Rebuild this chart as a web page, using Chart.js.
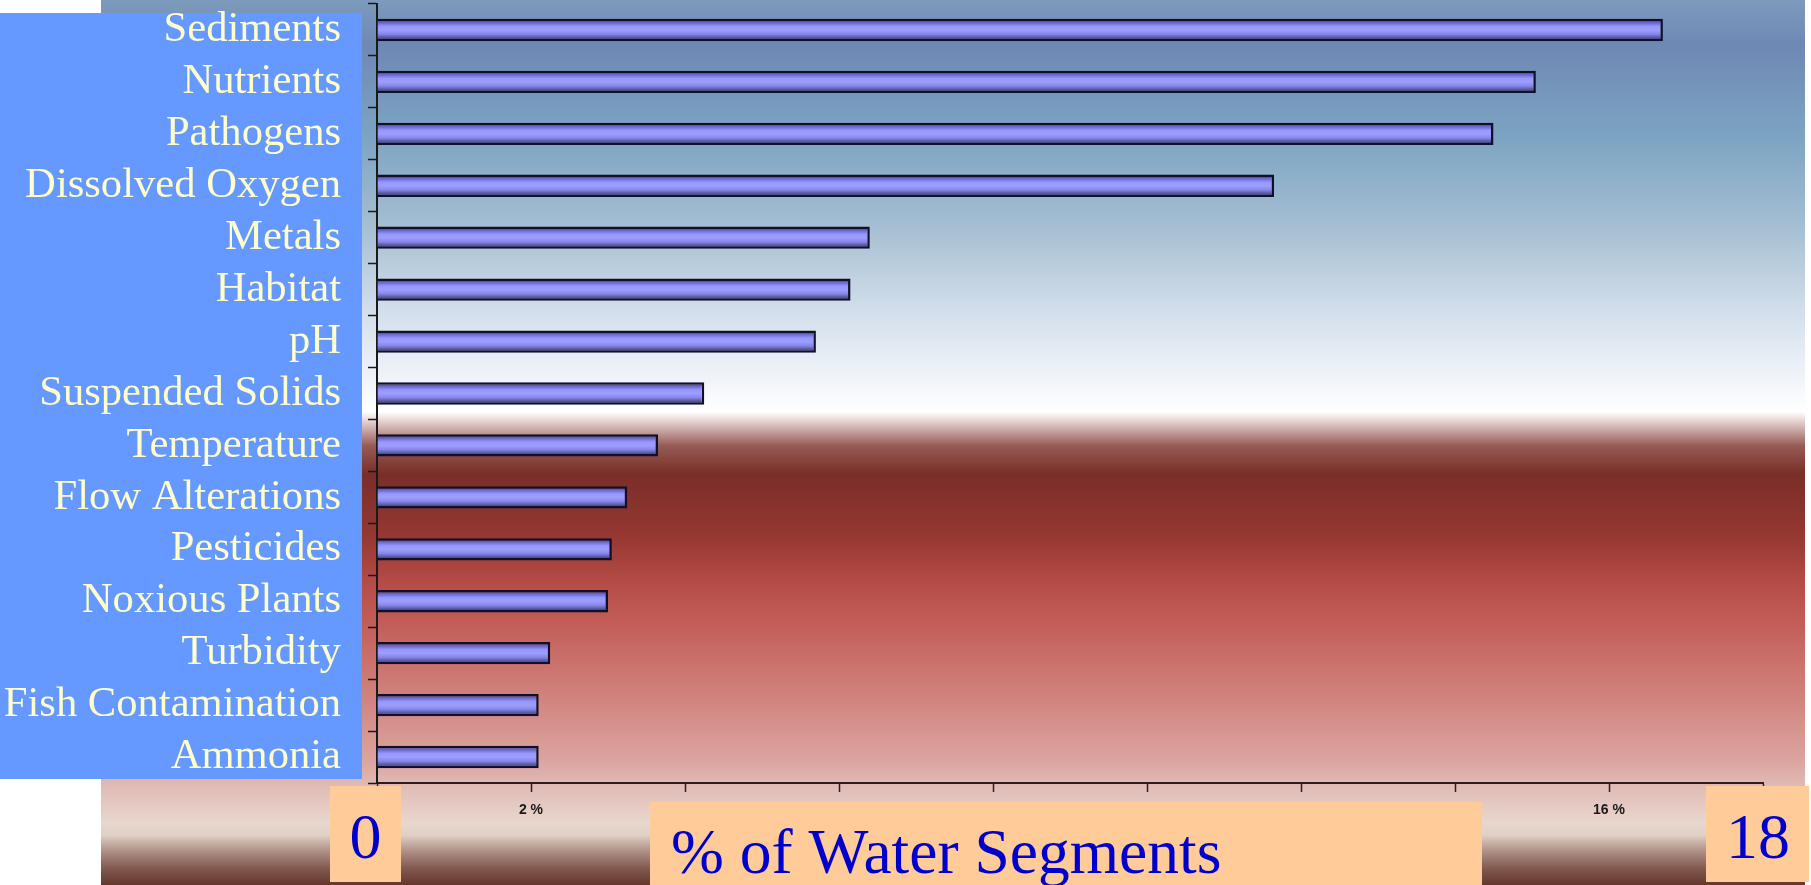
<!DOCTYPE html>
<html>
<head>
<meta charset="utf-8">
<title>Impairments by % of Water Segments</title>
<script src="https://cdn.jsdelivr.net/npm/chart.js@4/dist/chart.umd.min.js"></script>
<style>
  html, body { margin: 0; padding: 0; background: #ffffff; }
  #wrap { width: 1811px; height: 885px; position: relative; }
  canvas { display: block; }
</style>
</head>
<body>
<div id="wrap"><canvas id="chart" width="1811" height="885"></canvas></div>
<script>
// Impairment causes, top to bottom
const categories = [
  'Sediments', 'Nutrients', 'Pathogens', 'Dissolved Oxygen', 'Metals',
  'Habitat', 'pH', 'Suspended Solids', 'Temperature', 'Flow Alterations',
  'Pesticides', 'Noxious Plants', 'Turbidity', 'Fish Contamination', 'Ammonia'
];

// Share of water segments affected (%)
const percentValues = [
  16.7, 15.05, 14.5, 11.65, 6.4,
  6.15, 5.7, 4.25, 3.65, 3.25,
  3.05, 3.0, 2.25, 2.1, 2.1
];

// Axis range and labels
const axisMin = 0;
const axisMax = 18;
const axisStep = 2;
const labelledTicks = [2, 16];
const axisEndLabels = ['0', '18'];
const axisTitle = '% of Water Segments';

// ---- styling ----
const BAR_PCT = 0.43;
const LABEL_FONT = '"Liberation Serif", "Times New Roman", serif';

// Slide backdrop: steel blue fading to white, then maroon fading to pale pink
const backdropStops = [
  [0, 'rgb(125,155,188)'], [23, 'rgb(118,145,185)'], [45, 'rgb(110,136,180)'],
  [140, 'rgb(125,165,195)'], [226, 'rgb(165,190,210)'], [310, 'rgb(210,222,235)'],
  [390, 'rgb(245,248,252)'], [412, 'rgb(255,255,255)'], [420, 'rgb(232,216,214)'],
  [446, 'rgb(150,90,85)'], [474, 'rgb(122,46,40)'], [536, 'rgb(150,55,50)'],
  [581, 'rgb(180,75,70)'], [621, 'rgb(195,92,87)'], [705, 'rgb(210,135,130)'],
  [762, 'rgb(220,165,160)'], [790, 'rgb(225,190,185)'], [823, 'rgb(232,215,205)'],
  [835, 'rgb(225,208,198)'], [850, 'rgb(178,148,138)'], [868, 'rgb(130,90,80)'],
  [885, 'rgb(100,55,45)']
];

// Cylinder-like shading across each bar's thickness
function barFill(ctx) {
  const chart = ctx.chart;
  const yScale = chart.scales && chart.scales.y;
  if (!yScale || ctx.type !== 'data') return '#9090f0';
  const c = yScale.getPixelForValue(ctx.dataIndex);
  const h = (yScale.height / categories.length) * BAR_PCT;
  if (!isFinite(c) || !isFinite(h) || h <= 0) return '#9090f0';
  const g = chart.ctx.createLinearGradient(0, c - h / 2, 0, c + h / 2);
  g.addColorStop(0.0, '#22225a');
  g.addColorStop(0.16, '#6464c4');
  g.addColorStop(0.34, '#9696ff');
  g.addColorStop(0.5, '#9e9eff');
  g.addColorStop(0.68, '#8888ea');
  g.addColorStop(0.85, '#5454a0');
  g.addColorStop(1.0, '#20204a');
  return g;
}

// Backdrop panels drawn beneath the chart, boxed captions on top
const backdropPlugin = {
  id: 'backdrop',
  beforeDraw(chart) {
    const ctx = chart.ctx;
    const H = chart.height;
    ctx.save();
    ctx.fillStyle = '#ffffff';
    ctx.fillRect(0, 0, chart.width, H);
    const g = ctx.createLinearGradient(0, 0, 0, H);
    backdropStops.forEach(([y, col]) => g.addColorStop(y / H, col));
    ctx.fillStyle = g;
    ctx.fillRect(101, 0, 1805 - 101, H);
    // category label panel
    ctx.fillStyle = '#6699ff';
    ctx.fillRect(0, 13, 362, 766);
    ctx.restore();
  },
  afterDraw(chart) {
    const ctx = chart.ctx;
    ctx.save();
    ctx.fillStyle = '#ffcc99';
    ctx.fillRect(330, 786, 71, 96);
    ctx.fillRect(1706, 786, 103, 96);
    ctx.fillRect(650, 802, 832, 83);
    ctx.fillStyle = '#0000cc';
    ctx.textBaseline = 'alphabetic';
    ctx.font = '64px ' + LABEL_FONT;
    ctx.textAlign = 'center';
    ctx.fillText(axisEndLabels[0], 365.5, 858);
    ctx.fillText(axisEndLabels[1], 1758, 858);
    ctx.font = '63.5px ' + LABEL_FONT;
    ctx.textAlign = 'left';
    ctx.fillText(axisTitle, 671, 873);
    ctx.restore();
  }
};

new Chart(document.getElementById('chart'), {
  type: 'bar',
  data: {
    labels: categories,
    datasets: [{
      data: percentValues,
      backgroundColor: barFill,
      borderColor: '#10102a',
      borderWidth: 2.5,
      borderSkipped: 'start',
      barPercentage: BAR_PCT,
      categoryPercentage: 1.0
    }]
  },
  options: {
    indexAxis: 'y',
    responsive: false,
    animation: false,
    devicePixelRatio: 1,
    layout: { padding: { left: 0, top: 4, right: 48, bottom: 0 } },
    plugins: {
      legend: { display: false },
      tooltip: { enabled: false }
    },
    scales: {
      x: {
        type: 'linear',
        min: axisMin,
        max: axisMax,
        afterFit(scale) {
          scale.height = 102;
          scale.paddingLeft = 0;
          scale.paddingRight = 0;
        },
        border: { display: true, color: '#2e1c1c', width: 2 },
        grid: {
          drawOnChartArea: false,
          drawTicks: true,
          tickLength: 9,
          tickColor: '#2e1c1c',
          tickWidth: 1.5
        },
        ticks: {
          stepSize: axisStep,
          autoSkip: false,
          maxRotation: 0,
          padding: 10,
          color: '#1a1a1a',
          font: { family: '"Liberation Sans Narrow", "Liberation Sans", Arial, sans-serif', size: 14, weight: 'bold' },
          callback: (v) => labelledTicks.includes(v) ? v + ' %' : ''
        }
      },
      y: {
        type: 'category',
        afterFit(scale) {
          scale.width = 377;
          scale.paddingTop = 0;
          scale.paddingBottom = 0;
        },
        border: { display: true, color: '#1a1a1a', width: 2 },
        grid: {
          drawOnChartArea: false,
          drawTicks: true,
          offset: true,
          tickLength: 9,
          tickColor: '#1a1a1a',
          tickWidth: 1.5
        },
        ticks: {
          autoSkip: false,
          padding: 27,
          color: '#ffffcc',
          font: { family: LABEL_FONT, size: 42.6 }
        }
      }
    }
  },
  plugins: [backdropPlugin]
});
</script>
</body>
</html>
